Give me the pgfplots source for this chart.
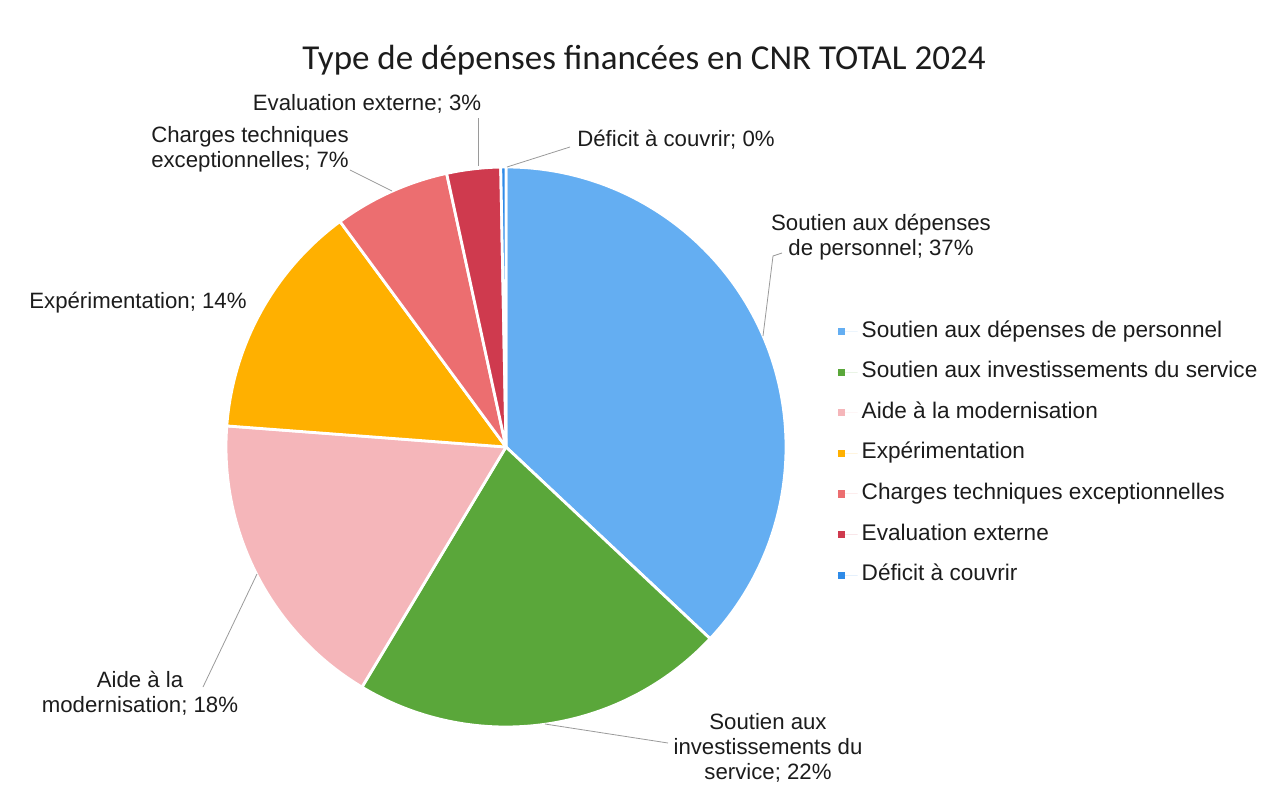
\documentclass[border=0pt]{standalone}
\usepackage{fontspec}
\setmainfont{Liberation Sans}
\newfontfamily\titlefont{Carlito}
\usepackage{pgfplots}
\usepackage{pgfplotstable}
\pgfplotsset{compat=1.18}

\definecolor{slice0}{HTML}{64AEF2}
\definecolor{slice1}{HTML}{5AA73A}
\definecolor{slice2}{HTML}{F5B6BA}
\definecolor{slice3}{HTML}{FFB000}
\definecolor{slice4}{HTML}{EC6E70}
\definecolor{slice5}{HTML}{CF3A4E}
\definecolor{slice6}{HTML}{2E8BE8}
\definecolor{leader}{HTML}{9A9A9A}
\definecolor{txt}{HTML}{1C1C1C}

% shares in percent, clockwise from 12 o'clock
\pgfplotstableread{
idx value
0 37.0
1 21.6
2 17.6
3 13.7
4 6.7
5 3.1
6 0.3
}\piedata

\pgfplotsset{
  sqleg/.style={legend image code/.code={%
    \fill (0pt,-1.8pt) rectangle (3.6pt,1.8pt);
    \path (0pt,0pt) -- (10pt,0pt);}},
}
\tikzset{lbl/.style={align=center, text=txt, font=\fontsize{11.1}{12.5}\selectfont}}

\begin{document}
\begin{tikzpicture}
% start/end angle of every slice
\def\cumval{0}
\pgfplotsforeachungrouped \i in {0,...,6}{%
  \pgfplotstablegetelem{\i}{value}\of\piedata
  \let\curval\pgfplotsretval
  \pgfmathsetmacro\angS{90-3.6*\cumval}%
  \pgfmathsetmacro\cumval{\cumval+\curval}%
  \pgfmathsetmacro\angE{90-3.6*\cumval}%
  \expandafter\xdef\csname pieS\i\endcsname{\angS}%
  \expandafter\xdef\csname pieE\i\endcsname{\angE}%
}
\begin{axis}[
  width=637.5pt, height=404pt, scale only axis,
  xmin=0, xmax=1275, ymin=0, ymax=808, y dir=reverse,
  hide axis, clip=false,
  legend style={at={(0.652,0.608)}, anchor=north west, draw=none, fill=none,
    font=\fontsize{11.3}{13}\selectfont, text=txt, cells={anchor=west},
    nodes={text height=8pt, text depth=2.4pt, inner ysep=0pt},
    row sep=9.9pt},
]
\path (axis cs:0,0) rectangle (axis cs:1275,808);

\pgfplotsinvokeforeach{0,...,6}{
  \filldraw[fill=slice#1, draw=white, line width=1.4pt, line join=round]
    (axis cs:506,447) -- ++(\csname pieS#1\endcsname:140pt)
    arc[start angle=\csname pieS#1\endcsname, end angle=\csname pieE#1\endcsname, radius=140pt] -- cycle;
}

\addlegendimage{fill=slice0, draw=none, sqleg}
\addlegendentry{Soutien aux dépenses de personnel}
\addlegendimage{fill=slice1, draw=none, sqleg}
\addlegendentry{Soutien aux investissements du service}
\addlegendimage{fill=slice2, draw=none, sqleg}
\addlegendentry{Aide à la modernisation}
\addlegendimage{fill=slice3, draw=none, sqleg}
\addlegendentry{Expérimentation}
\addlegendimage{fill=slice4, draw=none, sqleg}
\addlegendentry{Charges techniques exceptionnelles}
\addlegendimage{fill=slice5, draw=none, sqleg}
\addlegendentry{Evaluation externe}
\addlegendimage{fill=slice6, draw=none, sqleg}
\addlegendentry{Déficit à couvrir}

% leader lines
\draw[leader, line width=0.4pt] (axis cs:478,166) -- (axis cs:478,118);
\draw[leader, line width=0.4pt] (axis cs:507,167) -- (axis cs:570,147);
\draw[leader, line width=0.4pt] (axis cs:392,191) -- (axis cs:350,170);
\draw[leader, line width=0.4pt] (axis cs:763,336) -- (axis cs:773,256) -- (axis cs:782,253);
\draw[leader, line width=0.4pt] (axis cs:257,574) -- (axis cs:203,687);
\draw[leader, line width=0.4pt] (axis cs:545,724) -- (axis cs:668,743);

% data labels
\node[lbl] at (axis cs:367,104) {Evaluation externe; 3\%};
\node[lbl] at (axis cs:250,149) {Charges techniques\\exceptionnelles; 7\%};
\node[lbl] at (axis cs:676,140) {Déficit à couvrir; 0\%};
\node[lbl] at (axis cs:881,237) {Soutien aux dépenses\\de personnel; 37\%};
\node[lbl] at (axis cs:138,303) {Expérimentation; 14\%};
\node[lbl] at (axis cs:140,693) {Aide à la\\modernisation; 18\%};
\node[lbl] at (axis cs:768,748) {Soutien aux\\investissements du\\service; 22\%};

\node[text=txt, font=\titlefont\fontsize{17.5}{21}\selectfont] at (axis cs:644,60)
  {Type de dépenses financées en CNR TOTAL 2024};
\end{axis}
\end{tikzpicture}
\end{document}
